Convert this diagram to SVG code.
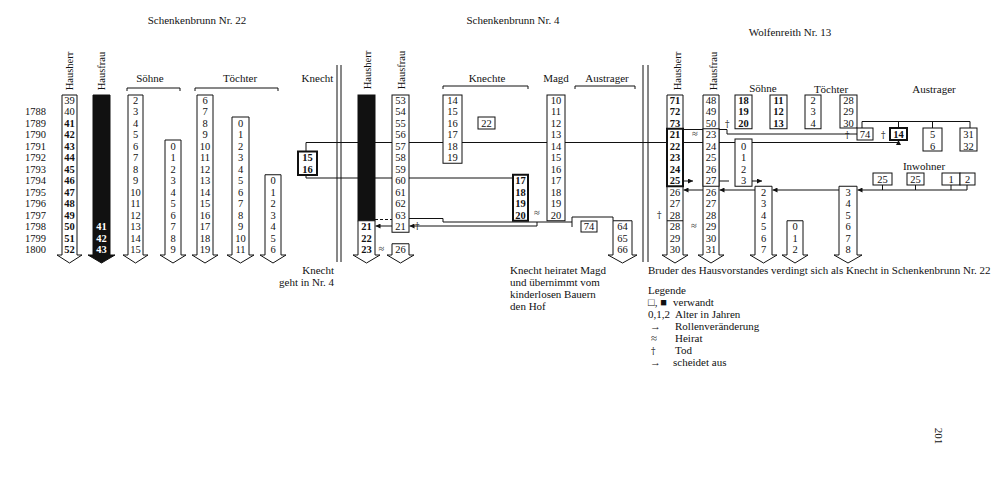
<svg xmlns="http://www.w3.org/2000/svg" width="1000" height="477" viewBox="0 0 1000 477">
<defs>
<style>
text{font-family:"Liberation Serif","DejaVu Serif",serif;fill:#111}
.n{font-size:10.5px;text-anchor:middle}
.b{font-weight:bold}
.w{fill:#fff}
.d{font-family:"DejaVu Serif",serif;font-size:9px;fill:#111}
.h{font-size:11px;text-anchor:middle}
.rl{font-size:10.5px;text-anchor:middle}
.yr{font-size:10.5px}
.cap{font-size:11px}
.col{fill:#fff;stroke:#111;stroke-width:1}
.blk{fill:#111;stroke:#111;stroke-width:1}
.thk{fill:#fff;stroke:#111;stroke-width:2}
.ln{fill:none;stroke:#111;stroke-width:1}
.arr{fill:none;stroke:#111;stroke-width:1;marker-end:url(#ah)}
</style>
<marker id="ah" viewBox="0 0 6 6" refX="6" refY="3" markerWidth="5" markerHeight="5" orient="auto" markerUnits="userSpaceOnUse"><path d="M0,0L6,3L0,6z" fill="#111"/></marker>
</defs>
<rect width="1000" height="477" fill="#fff"/>

<g id="titles">
<text class="h" x="197" y="24">Schenkenbrunn Nr. 22</text>
<text class="h" x="513" y="24">Schenkenbrunn Nr. 4</text>
<text class="h" x="790" y="36">Wolfenreith Nr. 13</text>
<text class="h" x="150" y="82">Söhne</text>
<text class="h" x="240" y="82">Töchter</text>
<text class="h" x="317.5" y="81.5">Knecht</text>
<text class="h" x="487" y="81.5">Knechte</text>
<text class="h" x="556" y="81.5">Magd</text>
<text class="h" x="607" y="81.5">Austrager</text>
<text class="h" x="763" y="92">Söhne</text>
<text class="h" x="831" y="92.5">Töchter</text>
<text class="h" x="934" y="92.5">Austrager</text>
<text class="h" x="924" y="170">Inwohner</text>
<text class="rl" transform="translate(72.5,71) rotate(-90)">Hausherr</text>
<text class="rl" transform="translate(105,71) rotate(-90)">Hausfrau</text>
<text class="rl" transform="translate(370.5,70) rotate(-90)">Hausherr</text>
<text class="rl" transform="translate(404.5,70) rotate(-90)">Hausfrau</text>
<text class="rl" transform="translate(680.5,71) rotate(-90)">Hausherr</text>
<text class="rl" transform="translate(716.5,71) rotate(-90)">Hausfrau</text>
<path class="ln" d="M127,91V88H180V91M195,91V88H278V91M443,89V86H528V89M575,89V86H635V89"/>
<path class="ln" d="M337,65V262M341,65V262M643,65V262M648,65V262"/>
</g>

<g id="years">
<text class="yr" x="25" y="115.3">1788<tspan x="25" dy="11.5">1789</tspan><tspan x="25" dy="11.5">1790</tspan><tspan x="25" dy="11.5">1791</tspan><tspan x="25" dy="11.5">1792</tspan><tspan x="25" dy="11.5">1793</tspan><tspan x="25" dy="11.5">1794</tspan><tspan x="25" dy="11.5">1795</tspan><tspan x="25" dy="11.5">1796</tspan><tspan x="25" dy="11.5">1797</tspan><tspan x="25" dy="11.5">1798</tspan><tspan x="25" dy="11.5">1799</tspan><tspan x="25" dy="11.5">1800</tspan></text>
</g>

<g id="connectors">
<path class="arr" d="M306,151.5V142.5H898.5V140"/>
<path class="ln" d="M306,174.75V178H513"/>
<path class="ln" d="M375,219.5H392" stroke-dasharray="3,2"/>
<path class="ln" d="M409,218.5H443V222H572M572,217V227M572,217H613V220.75"/>
<path class="arr" d="M537,222V226H409.5"/>
<path class="arr" d="M392,226H375.5"/>
<path class="ln" d="M683,129.5H727V134H857"/>
<path class="arr" d="M683,181H693"/>
<path class="arr" d="M703,190H683.5"/>
<path class="ln" d="M719.5,181H729" stroke-width="1.6"/>
<path class="arr" d="M755,190H719.5"/>
<path class="arr" d="M752,181H762"/>
<path class="arr" d="M839,190H772.5"/>
<path class="arr" d="M967,185V190H857.5"/>
<path class="ln" d="M882.5,185V190M915.5,185V190M951,185V190"/>
<path class="ln" d="M862,128V121.5H970V128M898.5,121.5V128M932.5,121.5V128"/>
</g>

<g id="s22-hausherr">
<polygon class="col" points="62,95 77,95 77,255 82,255 69.5,263 57,255 62,255"/>
<text class="n" x="69.5" y="103.8">39<tspan x="69.5" dy="11.5">40</tspan><tspan class="b" x="69.5" dy="11.5">41</tspan><tspan class="b" x="69.5" dy="11.5">42</tspan><tspan class="b" x="69.5" dy="11.5">43</tspan><tspan class="b" x="69.5" dy="11.5">44</tspan><tspan class="b" x="69.5" dy="11.5">45</tspan><tspan class="b" x="69.5" dy="11.5">46</tspan><tspan class="b" x="69.5" dy="11.5">47</tspan><tspan class="b" x="69.5" dy="11.5">48</tspan><tspan class="b" x="69.5" dy="11.5">49</tspan><tspan class="b" x="69.5" dy="11.5">50</tspan><tspan class="b" x="69.5" dy="11.5">51</tspan><tspan class="b" x="69.5" dy="11.5">52</tspan></text>
</g>
<g id="s22-hausfrau">
<polygon class="blk" points="93,95 110,95 110,255 115,255 101.5,263 88,255 93,255"/>
<text class="n b w" x="101.5" y="230.3">41<tspan x="101.5" dy="11.5">42</tspan><tspan x="101.5" dy="11.5">43</tspan></text>
</g>
<g id="s22-sohn1">
<polygon class="col" points="128,95 143,95 143,255 148,255 135.5,263 123,255 128,255"/>
<text class="n" x="135.5" y="103.8">2<tspan x="135.5" dy="11.5">3</tspan><tspan x="135.5" dy="11.5">4</tspan><tspan x="135.5" dy="11.5">5</tspan><tspan x="135.5" dy="11.5">6</tspan><tspan x="135.5" dy="11.5">7</tspan><tspan x="135.5" dy="11.5">8</tspan><tspan x="135.5" dy="11.5">9</tspan><tspan x="135.5" dy="11.5">10</tspan><tspan x="135.5" dy="11.5">11</tspan><tspan x="135.5" dy="11.5">12</tspan><tspan x="135.5" dy="11.5">13</tspan><tspan x="135.5" dy="11.5">14</tspan><tspan x="135.5" dy="11.5">15</tspan></text>
</g>
<g id="s22-sohn2">
<polygon class="col" points="165,140 181,140 181,255 186,255 173,263 160,255 165,255"/>
<text class="n" x="173" y="149.8">0<tspan x="173" dy="11.5">1</tspan><tspan x="173" dy="11.5">2</tspan><tspan x="173" dy="11.5">3</tspan><tspan x="173" dy="11.5">4</tspan><tspan x="173" dy="11.5">5</tspan><tspan x="173" dy="11.5">6</tspan><tspan x="173" dy="11.5">7</tspan><tspan x="173" dy="11.5">8</tspan><tspan x="173" dy="11.5">9</tspan></text>
</g>
<g id="s22-tochter1">
<polygon class="col" points="197,95 213,95 213,255 218,255 205,263 192,255 197,255"/>
<text class="n" x="205" y="103.8">6<tspan x="205" dy="11.5">7</tspan><tspan x="205" dy="11.5">8</tspan><tspan x="205" dy="11.5">9</tspan><tspan x="205" dy="11.5">10</tspan><tspan x="205" dy="11.5">11</tspan><tspan x="205" dy="11.5">12</tspan><tspan x="205" dy="11.5">13</tspan><tspan x="205" dy="11.5">14</tspan><tspan x="205" dy="11.5">15</tspan><tspan x="205" dy="11.5">16</tspan><tspan x="205" dy="11.5">17</tspan><tspan x="205" dy="11.5">18</tspan><tspan x="205" dy="11.5">19</tspan></text>
</g>
<g id="s22-tochter2">
<polygon class="col" points="232,117 249,117 249,255 254,255 240.5,263 227,255 232,255"/>
<text class="n" x="240.5" y="126.8">0<tspan x="240.5" dy="11.5">1</tspan><tspan x="240.5" dy="11.5">2</tspan><tspan x="240.5" dy="11.5">3</tspan><tspan x="240.5" dy="11.5">4</tspan><tspan x="240.5" dy="11.5">5</tspan><tspan x="240.5" dy="11.5">6</tspan><tspan x="240.5" dy="11.5">7</tspan><tspan x="240.5" dy="11.5">8</tspan><tspan x="240.5" dy="11.5">9</tspan><tspan x="240.5" dy="11.5">10</tspan><tspan x="240.5" dy="11.5">11</tspan></text>
</g>
<g id="s22-tochter3">
<polygon class="col" points="265,174.75 281,174.75 281,255 286,255 273,263 260,255 265,255"/>
<text class="n" x="273" y="184.3">0<tspan x="273" dy="11.5">1</tspan><tspan x="273" dy="11.5">2</tspan><tspan x="273" dy="11.5">3</tspan><tspan x="273" dy="11.5">4</tspan><tspan x="273" dy="11.5">5</tspan><tspan x="273" dy="11.5">6</tspan></text>
</g>
<g id="s22-knecht">
<rect class="thk" x="298" y="151.5" width="19" height="23.5"/>
<text class="n b" x="307.5" y="161.3">15<tspan x="307.5" dy="11.5">16</tspan></text>
</g>

<g id="s4-hausherr">
<rect class="blk" x="358" y="95" width="17" height="125.75"/>
<polygon class="col" points="358,220.75 375,220.75 375,255 380,255 366.5,263 353,255 358,255"/>
<text class="n b" x="366.5" y="230.3">21<tspan x="366.5" dy="11.5">22</tspan><tspan x="366.5" dy="11.5">23</tspan></text>
</g>
<g id="s4-hausfrau">
<rect class="col" x="392" y="95" width="17" height="137.25"/>
<text class="n" x="400.5" y="103.8">53<tspan x="400.5" dy="11.5">54</tspan><tspan x="400.5" dy="11.5">55</tspan><tspan x="400.5" dy="11.5">56</tspan><tspan x="400.5" dy="11.5">57</tspan><tspan x="400.5" dy="11.5">58</tspan><tspan x="400.5" dy="11.5">59</tspan><tspan x="400.5" dy="11.5">60</tspan><tspan x="400.5" dy="11.5">61</tspan><tspan x="400.5" dy="11.5">62</tspan><tspan x="400.5" dy="11.5">63</tspan><tspan x="400.5" dy="11.5">21</tspan></text>
</g>
<g id="s4-hausfrau2">
<polygon class="col" points="392,243.75 409,243.75 409,255 414,255 400.5,263 387,255 392,255"/>
<text class="n" x="400.5" y="253.3">26</text>
<text class="n" x="381.5" y="252">≈</text>
</g>
<g id="s4-knechte1">
<rect class="col" x="443" y="95" width="19" height="68.25"/>
<text class="n" x="452.5" y="103.8">14<tspan x="452.5" dy="11.5">15</tspan><tspan x="452.5" dy="11.5">16</tspan><tspan x="452.5" dy="11.5">17</tspan><tspan x="452.5" dy="11.5">18</tspan><tspan x="452.5" dy="11.5">19</tspan></text>
</g>
<g id="s4-knecht22">
<rect class="col" x="478" y="117" width="17" height="12"/>
<text class="n" x="486.5" y="126.8">22</text>
</g>
<g id="s4-knechte2">
<rect class="thk" x="513" y="174.75" width="15" height="46"/>
<text class="n b" x="520.5" y="184.3">17<tspan x="520.5" dy="11.5">18</tspan><tspan x="520.5" dy="11.5">19</tspan><tspan x="520.5" dy="11.5">20</tspan></text>
<text class="n" x="537" y="216">≈</text>
<text class="d" x="415" y="229">†</text>
</g>
<g id="s4-magd">
<rect class="col" x="547" y="95" width="18" height="125.75"/>
<text class="n" x="556" y="103.8">10<tspan x="556" dy="11.5">11</tspan><tspan x="556" dy="11.5">12</tspan><tspan x="556" dy="11.5">13</tspan><tspan x="556" dy="11.5">14</tspan><tspan x="556" dy="11.5">15</tspan><tspan x="556" dy="11.5">16</tspan><tspan x="556" dy="11.5">17</tspan><tspan x="556" dy="11.5">18</tspan><tspan x="556" dy="11.5">19</tspan><tspan x="556" dy="11.5">20</tspan></text>
</g>
<g id="s4-austrager74">
<rect class="col" x="581" y="221" width="16" height="11"/>
<text class="n" x="589" y="230.3">74</text>
</g>
<g id="s4-austrager">
<polygon class="col" points="613,220.75 632,220.75 632,255 637,255 622.5,263 608,255 613,255"/>
<text class="n" x="622.5" y="230.3">64<tspan x="622.5" dy="11.5">65</tspan><tspan x="622.5" dy="11.5">66</tspan></text>
</g>

<g id="w13-hausherr">
<polygon class="col" points="667,95 683,95 683,255 688,255 675,263 662,255 667,255"/>
<rect class="thk" x="667" y="128.75" width="16" height="57.5"/>
<path class="ln" d="M667,220.75H683"/>
<text class="n b" x="675" y="103.8">71<tspan x="675" dy="11.5">72</tspan><tspan x="675" dy="11.5">73</tspan><tspan x="675" dy="11.5">21</tspan><tspan x="675" dy="11.5">22</tspan><tspan x="675" dy="11.5">23</tspan><tspan x="675" dy="11.5">24</tspan><tspan x="675" dy="11.5">25</tspan></text>
<text class="n" x="675" y="195.8">26<tspan x="675" dy="11.5">27</tspan><tspan x="675" dy="11.5">28</tspan><tspan x="675" dy="11.5">28</tspan><tspan x="675" dy="11.5">29</tspan><tspan x="675" dy="11.5">30</tspan></text>
<text class="d" x="657" y="218">†</text>
<text class="n" x="695" y="137">≈</text>
<text class="n" x="694" y="229">≈</text>
</g>
<g id="w13-hausfrau">
<polygon class="col" points="703,95 719,95 719,255 724,255 711,263 698,255 703,255"/>
<rect class="col" x="703" y="128.75" width="16" height="57.5"/>
<text class="n" x="711" y="103.8">48<tspan x="711" dy="11.5">49</tspan><tspan x="711" dy="11.5">50</tspan><tspan x="711" dy="11.5">23</tspan><tspan x="711" dy="11.5">24</tspan><tspan x="711" dy="11.5">25</tspan><tspan x="711" dy="11.5">26</tspan><tspan x="711" dy="11.5">27</tspan><tspan x="711" dy="11.5">26</tspan><tspan x="711" dy="11.5">27</tspan><tspan x="711" dy="11.5">28</tspan><tspan x="711" dy="11.5">29</tspan><tspan x="711" dy="11.5">30</tspan><tspan x="711" dy="11.5">31</tspan></text>
</g>
<g id="w13-sohn1">
<rect class="col" x="735" y="95" width="17" height="33.75" stroke-width="1.5"/>
<text class="n b" x="743.5" y="103.8">18<tspan x="743.5" dy="11.5">19</tspan><tspan x="743.5" dy="11.5">20</tspan></text>
<text class="d" x="725" y="126.5">†</text>
</g>
<g id="w13-sohn2">
<rect class="col" x="770" y="95" width="17" height="33.75" stroke-width="1.5"/>
<text class="n b" x="778.5" y="103.8">11<tspan x="778.5" dy="11.5">12</tspan><tspan x="778.5" dy="11.5">13</tspan></text>
</g>
<g id="w13-tochter1">
<rect class="col" x="805" y="95" width="16" height="33.75"/>
<text class="n" x="813" y="103.8">2<tspan x="813" dy="11.5">3</tspan><tspan x="813" dy="11.5">4</tspan></text>
</g>
<g id="w13-tochter2">
<rect class="col" x="840" y="95" width="17" height="33"/>
<text class="n" x="848.5" y="103.8">28<tspan x="848.5" dy="11.5">29</tspan><tspan x="848.5" dy="11.5">30</tspan></text>
<text class="d" x="845" y="137.5">†</text>
</g>
<g id="w13-sohn3">
<rect class="col" x="735" y="139" width="17" height="47.25"/>
<text class="n" x="743.5" y="149.8">0<tspan x="743.5" dy="11.5">1</tspan><tspan x="743.5" dy="11.5">2</tspan><tspan x="743.5" dy="11.5">3</tspan></text>
</g>
<g id="w13-kind27">
<polygon class="col" points="755,186.25 772,186.25 772,255 777,255 763.5,263 750,255 755,255"/>
<text class="n" x="763.5" y="195.8">2<tspan x="763.5" dy="11.5">3</tspan><tspan x="763.5" dy="11.5">4</tspan><tspan x="763.5" dy="11.5">5</tspan><tspan x="763.5" dy="11.5">6</tspan><tspan x="763.5" dy="11.5">7</tspan></text>
</g>
<g id="w13-kind02">
<polygon class="col" points="787,220.75 803,220.75 803,255 808,255 795,263 782,255 787,255"/>
<text class="n" x="795" y="230.3">0<tspan x="795" dy="11.5">1</tspan><tspan x="795" dy="11.5">2</tspan></text>
</g>
<g id="w13-kind38">
<polygon class="col" points="839,186.25 857,186.25 857,255 862,255 848,263 834,255 839,255"/>
<text class="n" x="848" y="195.8">3<tspan x="848" dy="11.5">4</tspan><tspan x="848" dy="11.5">5</tspan><tspan x="848" dy="11.5">6</tspan><tspan x="848" dy="11.5">7</tspan><tspan x="848" dy="11.5">8</tspan></text>
</g>
<g id="w13-austrager74">
<rect class="col" x="857" y="128" width="16" height="12"/>
<text class="n" x="865" y="138">74</text>
<text class="d" x="881" y="138">†</text>
</g>
<g id="w13-austrager14">
<rect class="thk" x="890" y="128" width="17" height="12"/>
<text class="n b" x="898.5" y="138">14</text>
</g>
<g id="w13-austrager56">
<rect class="col" x="923" y="128" width="19" height="23"/>
<text class="n" x="932.5" y="138">5<tspan x="932.5" dy="11.5">6</tspan></text>
</g>
<g id="w13-austrager3132">
<rect class="col" x="960" y="128" width="17" height="23"/>
<text class="n" x="968.5" y="138">31<tspan x="968.5" dy="11.5">32</tspan></text>
</g>
<g id="w13-inwohner1">
<rect class="col" x="873" y="173" width="19" height="12"/>
<text class="n" x="882.5" y="182.5">25</text>
</g>
<g id="w13-inwohner2">
<rect class="col" x="907" y="173" width="17" height="12" stroke-width="1.4"/>
<text class="n" x="915.5" y="182.5">25</text>
</g>
<g id="w13-inwohner3">
<rect class="col" x="942" y="173" width="18" height="12"/>
<rect class="col" x="960" y="173" width="15" height="12"/>
<text class="n" x="951" y="182.5">1</text>
<text class="n" x="967.5" y="182.5">2</text>
</g>

<g id="captions">
<text class="cap" x="334" y="273.5" text-anchor="end">Knecht</text>
<text class="cap" x="334" y="285.5" text-anchor="end">geht in Nr. 4</text>
<text class="cap" x="510" y="273.5">Knecht heiratet Magd</text>
<text class="cap" x="510" y="285.5">und übernimmt vom</text>
<text class="cap" x="510" y="297.5">kinderlosen Bauern</text>
<text class="cap" x="510" y="309.5">den Hof</text>
<text class="cap" x="648" y="273.5">Bruder des Hausvorstandes verdingt sich als Knecht in Schenkenbrunn Nr. 22</text>
</g>
<g id="legend">
<text class="cap" x="648" y="293.5">Legende</text>
<text class="cap" x="648" y="305.5">□, ■</text><text class="cap" x="673" y="305.5">verwandt</text>
<text class="cap" x="648" y="317.5">0,1,2</text><text class="cap" x="675" y="317.5">Alter in Jahren</text>
<text class="cap" x="650" y="329.5">→</text><text class="cap" x="675" y="329.5">Rollenveränderung</text>
<text class="cap" x="651" y="341.5">≈</text><text class="cap" x="675" y="341.5">Heirat</text>
<text class="d" x="651" y="353.5">†</text><text class="cap" x="675" y="353.5">Tod</text>
<text class="cap" x="650" y="365.5">→</text><text class="cap" x="673" y="365.5">scheidet aus</text>
</g>
<g id="page">
<text class="cap" text-anchor="middle" transform="translate(934.5,436) rotate(90)">201</text>
</g>
</svg>
